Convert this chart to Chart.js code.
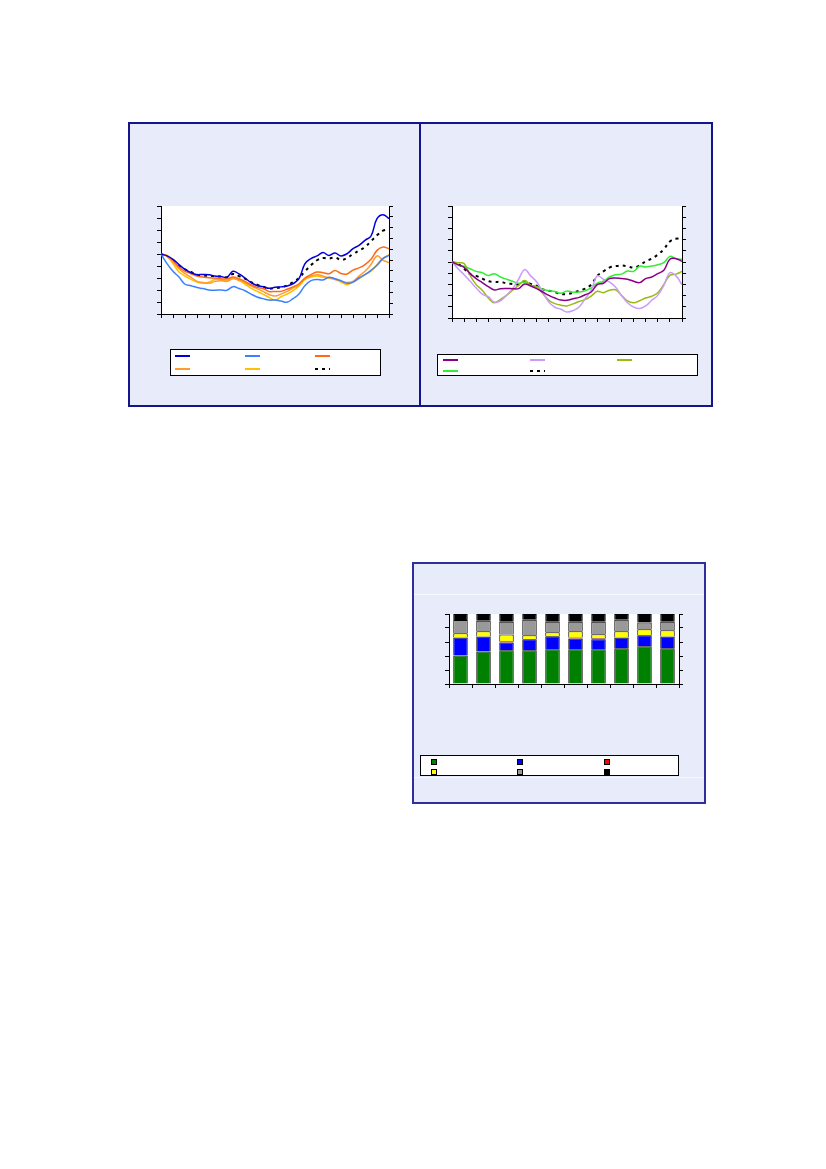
<!DOCTYPE html>
<html>
<head>
<meta charset="utf-8">
<script src="https://cdn.jsdelivr.net/npm/chart.js@4.4.1/dist/chart.umd.min.js"></script>
<style>
  body { margin: 0; width: 826px; height: 1169px; position: relative; background: #fff; }
  .panel { position: absolute; background: #e8ecfa; border: 2px solid #14148c; box-sizing: border-box; }
  .cv { position: absolute; }
  .legend { position: absolute; background: #fff; border: 1px solid #000; box-sizing: border-box; }
  .key { position: absolute; }
</style>
</head>
<body>
<div class="panel" style="left:128px;top:122px;width:585px;height:285px"></div>
<div style="position:absolute;left:419px;top:123px;width:2px;height:283px;background:#14148c"></div>
<div class="panel" style="left:412px;top:562px;width:294px;height:242px;border-color:#2e2e9e"></div>
<div style="position:absolute;left:414px;top:594px;width:290px;height:1px;background:rgba(255,255,255,0.7)"></div>
<div style="position:absolute;left:414px;top:777px;width:290px;height:1px;background:rgba(255,255,255,0.7)"></div>

<canvas id="c1" class="cv" width="236" height="114" style="left:157px;top:204px"></canvas>
<canvas id="c2" class="cv" width="238" height="118" style="left:448px;top:204px"></canvas>
<canvas id="c3" class="cv" width="238" height="76" style="left:445px;top:612px"></canvas>

<div id="leg1" class="legend" style="left:170px;top:349px;width:211px;height:27px"></div>
<div id="leg2" class="legend" style="left:437px;top:354px;width:261px;height:22px"></div>
<div id="leg3" class="legend" style="left:420px;top:755px;width:259px;height:21px"></div>

<script>
// left chart (index, start = 100)
const darkBlue1 = [100,99.2,97.8,95.6,93.6,92.2,91.4,91.5,91.4,90.8,90.6,90.3,92.8,91.7,90,88.1,86.9,86.4,85.7,86.1,86.3,86.7,87.6,89.7,96,98.1,99.2,100.6,99.4,100.4,99.2,100.1,102.2,103.6,105.7,107.5,114.7,116.4,114.7];
const lightBlue1 = [100,96,92.8,90.4,87.4,86.8,86,85.6,85,84.9,85,84.9,86.4,85.6,84.7,83.3,82.1,81.4,80.8,80.8,80.4,79.9,81.4,83.3,86.9,88.9,89.4,89.2,90.3,89.7,88.9,87.8,88.3,90,91.4,93.2,95.3,98.1,99.4];
const orangeRed1 = [100,99.4,97.4,94.6,92.8,91.8,90.8,90.4,90.1,90,89.7,89.6,90.4,89.7,88.6,87.2,86.1,85.6,84.4,84.4,84.4,85.3,86.3,87.6,90,91.4,92.5,92.2,91.8,93.1,91.9,91.7,93.3,94.2,95.6,97.8,101.5,102.9,102.2];
const orange1 = [100,98.9,96.7,93.9,91.8,90.3,88.6,88.1,87.8,88.6,88.9,88.6,89.7,89.2,88.1,86.7,85.6,84.4,83.1,82.5,83.3,84.4,85.8,87.2,89.7,90.8,91.4,90.8,90,89.4,88.6,88.1,88.6,90.8,92.8,95.6,99.2,97.4,96.4];
const yellow1 = [100,99.2,96,92.5,90.8,89.4,88.3,87.8,88.3,89.4,89.2,88.9,90,88.9,87.5,85.8,84.4,83.3,81.9,80.8,82.2,83.3,84.7,86.7,89.4,90.4,90.8,90.3,90,89.7,88.3,87.2,88.3,89.7,91.4,92.8,95.6,98.3,99.7];
const dashed1 = [100,98.9,97.5,95,93.6,92.5,91.4,91.1,90.8,90.8,90.6,90.3,91.7,90.8,89.7,88.3,87.2,86.4,85.6,85.8,86.1,86.9,88.3,90,92.8,95.3,97.4,98.3,98.1,98.6,97.5,98.3,100,101.4,102.9,105.3,107.8,109.7,110.3];

// right chart
const purple2 = [100,98.8,97.6,94.8,92.6,90.8,89,87.5,88.1,88.2,88.1,88.1,90.2,89.3,88.1,86.6,85.1,83.9,83,82.9,83.6,84.2,85.4,86.6,89.9,90.5,92.6,92.9,92.6,92.3,91.4,90.8,92.6,93.3,94.8,96.3,101.2,101.5,100.3];
const lavender2 = [100,97,94.3,91.4,88.4,85.7,84.5,82.1,82.7,85.1,88.1,92.3,96.6,93.8,91.1,86.6,82.1,79.8,78.9,77.7,78.3,79.9,83.6,87.4,93.8,92.3,91.1,88.8,85.1,81.8,79.9,79.2,80.4,82.9,85.1,89.6,95.2,93.8,89.9];
const olive2 = [100,99.7,99.3,94,89.9,87.4,83.9,81.8,83.3,85.1,87.4,89.6,91.7,89.6,88.8,85.9,82.9,81.4,80.7,80.4,81.3,82.4,83.2,84.8,86.9,86.3,87.4,87.6,85.1,82.6,81.8,82.7,83.9,84.7,86.3,90,94,94.6,95.8];
const green2 = [100,98.5,98.1,97,95.8,95.2,94,94.8,93.3,92.3,91.4,90.5,91.1,89.6,89,87.8,87.2,86.8,86,87.1,86.5,86.6,87.1,88.4,90.6,91.4,93.3,94.3,94.6,96,95.8,98.1,97.8,98.2,98.8,99.7,102.5,101.5,101.2];
const dashed2 = [100,99.1,97,94.6,93.8,92.6,91.4,91.1,91.1,90.5,90.2,90,91.4,90.2,89.3,87.8,87.2,86.6,85.7,85.7,86.3,87.2,88.1,89.9,93.8,95.8,97.5,98.1,98.4,98.1,97.5,98.5,100.3,101.5,103.3,105.7,109.2,110.4,110.1];

// stacked bars, % shares
const barGreen = [40.8,46.4,48.3,48.3,49.8,49.8,49.8,51.2,54,51.2];
const barBlue = [25.6,21.6,10.9,15.7,18.4,15.1,14.2,15.2,15.7,16.6];
const barRed = [0,0,2,0,0,1.5,1.5,0,0,0];
const barYellow = [6.1,7.4,9.4,5.7,5.7,9,5.6,9,8.5,9];
const barGray = [19,15.1,18.5,22.2,15.2,13.7,18,16.5,9.5,12.3];
const barBlack = [8.5,9.5,10.9,8.1,10.9,10.9,10.9,8.1,12.3,10.9];

const plotBg = {
  id: 'plotBg',
  beforeDraw(chart) {
    const a = chart.chartArea, ctx = chart.ctx;
    ctx.save();
    ctx.fillStyle = '#fff';
    ctx.fillRect(a.left, a.top, a.right - a.left, a.bottom - a.top);
    ctx.restore();
  }
};

function axis(extra) {
  return Object.assign({
    grid: { drawOnChartArea: false, tickLength: 4, color: '#000', tickColor: '#000' },
    border: { color: '#000', width: 1 },
    ticks: { display: false }
  }, extra);
}

function line(data, color, dash) {
  return {
    data: data,
    borderColor: color,
    borderWidth: dash ? 2 : 1.5,
    borderDash: dash ? [3, 4] : [],
    pointRadius: 0,
    tension: 0.4,
    fill: false
  };
}

function lineChart(id, sets, ymin, ymax, ystep) {
  new Chart(document.getElementById(id), {
    type: 'line',
    data: { labels: sets[0].data.map((_, i) => i), datasets: sets },
    options: {
      responsive: false,
      animation: false,
      layout: { padding: { top: 2 } },
      plugins: { legend: { display: false }, tooltip: { enabled: false } },
      scales: {
        x: axis({ grid: { drawOnChartArea: false, tickLength: 4, color: '#000',
                          tickColor: c => c.index % 2 ? 'rgba(0,0,0,0)' : '#000' } }),
        y: axis({ min: ymin, max: ymax, ticks: { display: false, stepSize: ystep } }),
        y2: axis({ position: 'right', min: 0, max: 10, ticks: { display: false, stepSize: 1 } })
      }
    },
    plugins: [plotBg]
  });
}

const sets1 = [
  line(darkBlue1, '#0000dc'),
  line(lightBlue1, '#3d80ff'),
  line(orangeRed1, '#ff6a12'),
  line(orange1, '#ff9b30'),
  line(yellow1, '#ffc000'),
  line(dashed1, '#000', true)
];
const sets2 = [
  line(purple2, '#880088'),
  line(lavender2, '#cc99ff'),
  line(olive2, '#99bb11'),
  line(green2, '#33ee33'),
  line(dashed2, '#000', true)
];
lineChart('c1', sets1, 75, 120, 5);
lineChart('c2', sets2, 75, 125, 5);

const barSets = [
  [barGreen, '#008000'], [barBlue, '#0000ff'], [barRed, '#ff0000'],
  [barYellow, '#ffff00'], [barGray, '#999999'], [barBlack, '#000000']
].map(([d, c]) => ({
  data: d, backgroundColor: c, borderColor: '#000', borderWidth: 1,
  categoryPercentage: 1, barPercentage: 0.63
}));

new Chart(document.getElementById('c3'), {
  type: 'bar',
  data: { labels: barGreen.map((_, i) => i), datasets: barSets },
  options: {
    responsive: false,
    animation: false,
    layout: { padding: { top: 2 } },
    plugins: { legend: { display: false }, tooltip: { enabled: false } },
    scales: {
      x: axis({ stacked: true }),
      y: axis({ stacked: true, min: 0, max: 100, ticks: { display: false, stepSize: 20 } }),
      y2: axis({ position: 'right', min: 0, max: 100, ticks: { display: false, stepSize: 20 } })
    }
  },
  plugins: [plotBg]
});

// legends without text, keys only
function lineLegend(id, sets, xs, ys) {
  const box = document.getElementById(id);
  sets.forEach((s, i) => {
    const k = document.createElement('div');
    k.className = 'key';
    k.style.left = xs[i % 3] + 'px';
    k.style.top = ys[Math.floor(i / 3)] + 'px';
    k.style.width = '15px';
    k.style.height = '2px';
    k.style.background = s.borderDash.length
      ? 'repeating-linear-gradient(90deg,#000 0 3px,transparent 3px 7px)'
      : s.borderColor;
    box.appendChild(k);
  });
}
lineLegend('leg1', sets1, [4, 74, 144], [5, 18]);
lineLegend('leg2', sets2, [5, 92, 179], [4, 15]);

const leg3 = document.getElementById('leg3');
barSets.forEach((s, i) => {
  const k = document.createElement('div');
  k.className = 'key';
  k.style.left = [10, 96, 183][i % 3] + 'px';
  k.style.top = [3, 13][Math.floor(i / 3)] + 'px';
  k.style.width = '6px';
  k.style.height = '6px';
  k.style.boxSizing = 'border-box';
  k.style.border = '1px solid #000';
  k.style.background = s.backgroundColor;
  leg3.appendChild(k);
});
</script>
</body>
</html>
